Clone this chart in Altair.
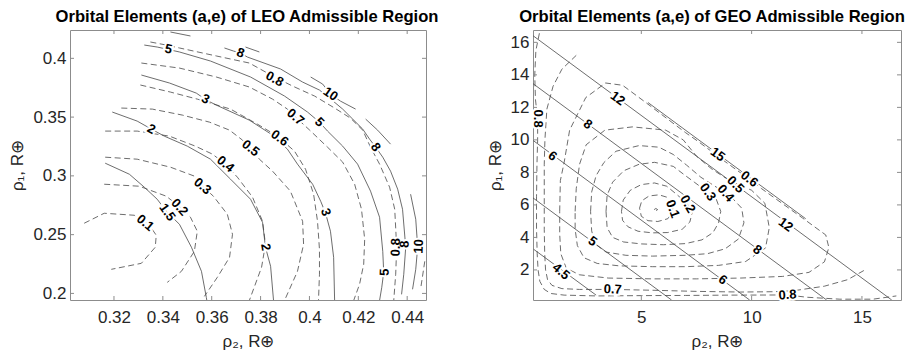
import altair as alt
import pandas as pd

FONT = "Liberation Sans"
LINE = "#474747"
FRAME = "#8c8c8c"
TXT = "#262626"

# ---------------- LEO panel ----------------
LEO_TITLE = "Orbital Elements (a,e) of LEO Admissible Region"
LEO_X_TICKS = [0.32, 0.34, 0.36, 0.38, 0.40, 0.42, 0.44]
LEO_Y_TICKS = [0.20, 0.25, 0.30, 0.35, 0.40]
LEO_X_DOMAIN = [0.3020, 0.4477]
LEO_Y_DOMAIN = [0.1944, 0.4241]

# eccentricity contours (dashed)
LEO_E01 = [(0.3078, 0.2597), (0.3160, 0.2682), (0.3283, 0.2665), (0.3345, 0.2580), (0.3373, 0.2495),
           (0.3369, 0.2393), (0.3312, 0.2256), (0.3189, 0.2205)]
LEO_E02 = [(0.3160, 0.2929), (0.3304, 0.2912), (0.3414, 0.2827), (0.3476, 0.2725), (0.3513, 0.2648),
           (0.3541, 0.2529), (0.3529, 0.2358), (0.3476, 0.2188), (0.3418, 0.2094)]
LEO_E03 = [(0.3164, 0.3159), (0.3295, 0.3142), (0.3431, 0.3074), (0.3529, 0.2998), (0.3562, 0.2912),
           (0.3607, 0.2827), (0.3664, 0.2673), (0.3685, 0.2503), (0.3673, 0.2307), (0.3623, 0.2137),
           (0.3570, 0.1975)]
LEO_E04 = [(0.3164, 0.3381), (0.3295, 0.3381), (0.3427, 0.3338), (0.3533, 0.3253), (0.3603, 0.3185),
           (0.3656, 0.3100), (0.3705, 0.2989), (0.3767, 0.2819), (0.3808, 0.2614), (0.3820, 0.2418),
           (0.3804, 0.2222), (0.3754, 0.1940)]
LEO_E05 = [(0.3230, 0.3577), (0.3357, 0.3568), (0.3480, 0.3517), (0.3591, 0.3457), (0.3673, 0.3389),
           (0.3726, 0.3304), (0.3759, 0.3236), (0.3795, 0.3142), (0.3849, 0.3040), (0.3922, 0.2870),
           (0.3972, 0.2614), (0.3976, 0.2418), (0.3951, 0.2188), (0.3898, 0.1940)]
LEO_E06 = [(0.3308, 0.3773), (0.3431, 0.3713), (0.3541, 0.3653), (0.3677, 0.3568), (0.3787, 0.3440),
           (0.3869, 0.3338), (0.3939, 0.3210), (0.3984, 0.3057), (0.4017, 0.2844), (0.4033, 0.2614),
           (0.4041, 0.2375), (0.4041, 0.2163), (0.4037, 0.1940)]
LEO_E07 = [(0.3312, 0.3960), (0.3468, 0.3917), (0.3619, 0.3841), (0.3754, 0.3756), (0.3849, 0.3653),
           (0.3910, 0.3568), (0.3943, 0.3500), (0.4001, 0.3389), (0.4074, 0.3244), (0.4136, 0.3117),
           (0.4185, 0.2929), (0.4213, 0.2716), (0.4226, 0.2461), (0.4222, 0.2248), (0.4205, 0.2077),
           (0.4181, 0.1940)]
LEO_E08 = [(0.3349, 0.4139), (0.3414, 0.4113), (0.3468, 0.4088), (0.3619, 0.4020), (0.3754, 0.3960),
           (0.3857, 0.3841), (0.3931, 0.3764), (0.4021, 0.3679), (0.4103, 0.3577), (0.4168, 0.3491),
           (0.4218, 0.3389), (0.4250, 0.3244), (0.4287, 0.3100), (0.4328, 0.2904), (0.4349, 0.2716),
           (0.4357, 0.2393), (0.4353, 0.2163), (0.4345, 0.1940)]
LEO_E09 = [(0.4472, 0.2273), (0.4456, 0.2052)]

# semi-major axis contours (solid)
LEO_A15 = [(0.3164, 0.3108), (0.3263, 0.3014), (0.3324, 0.2904), (0.3377, 0.2801), (0.3414, 0.2699),
           (0.3468, 0.2588), (0.3517, 0.2393), (0.3558, 0.2188), (0.3578, 0.1966), (0.3580, 0.1940)]
LEO_A2 = [(0.3193, 0.3543), (0.3295, 0.3466), (0.3353, 0.3398), (0.3406, 0.3338), (0.3500, 0.3253),
          (0.3595, 0.3142), (0.3677, 0.2972), (0.3759, 0.2801), (0.3808, 0.2605), (0.3820, 0.2393),
          (0.3841, 0.2231), (0.3853, 0.1940)]
LEO_A3 = [(0.3312, 0.3858), (0.3427, 0.3790), (0.3537, 0.3704), (0.3578, 0.3645), (0.3619, 0.3602),
          (0.3754, 0.3474), (0.3849, 0.3347), (0.3910, 0.3227), (0.3951, 0.3100), (0.4013, 0.2929),
          (0.4046, 0.2784), (0.4066, 0.2682), (0.4086, 0.2529), (0.4099, 0.2307), (0.4103, 0.1940)]
LEO_A5 = [(0.3324, 0.4113), (0.3377, 0.4096), (0.3468, 0.4054), (0.3595, 0.3977), (0.3759, 0.3841),
          (0.3898, 0.3679), (0.3992, 0.3543), (0.4041, 0.3457), (0.4074, 0.3381), (0.4136, 0.3253),
          (0.4197, 0.3100), (0.4250, 0.2870), (0.4287, 0.2648), (0.4300, 0.2358), (0.4304, 0.2180),
          (0.4296, 0.2052), (0.4287, 0.1940)]
LEO_A8 = [(0.3652, 0.4088), (0.3689, 0.4062), (0.3718, 0.4045), (0.3746, 0.4011), (0.3882, 0.3909),
          (0.3972, 0.3798), (0.4041, 0.3730), (0.4082, 0.3662), (0.4136, 0.3568), (0.4177, 0.3483),
          (0.4218, 0.3398), (0.4246, 0.3313), (0.4271, 0.3244), (0.4300, 0.3159), (0.4332, 0.3040),
          (0.4361, 0.2887), (0.4381, 0.2716), (0.4394, 0.2393), (0.4386, 0.2163), (0.4377, 0.1992)]
LEO_A10_S1 = [(0.3431, 0.4224), (0.3513, 0.4190)]
LEO_A10_S2 = [(0.3738, 0.4096), (0.3795, 0.4054)]
LEO_A10_S3 = [(0.4005, 0.3841), (0.4054, 0.3781), (0.4086, 0.3696), (0.4127, 0.3636), (0.4189, 0.3568)]
LEO_A10_S4 = [(0.4230, 0.3483), (0.4279, 0.3389), (0.4332, 0.3270)]
LEO_A10_S5 = [(0.4414, 0.2844), (0.4435, 0.2631), (0.4443, 0.2393), (0.4435, 0.2205), (0.4422, 0.2035)]

# inline contour labels: x, y, text, rotation
LEO_LABEL_X = [0.3423, 0.3718, 0.3857, 0.4086, 0.3943, 0.4041, 0.3878, 0.3759, 0.3656, 0.3574, 0.3353,
               0.3562, 0.3468, 0.3418, 0.3328, 0.4271, 0.3820, 0.4066, 0.4308, 0.4353, 0.4390, 0.4447]
LEO_LABEL_Y = [0.4079, 0.4045, 0.3824, 0.3696, 0.3500, 0.3457, 0.3321, 0.3236, 0.3100, 0.3653, 0.3398,
               0.2912, 0.2733, 0.2690, 0.2600, 0.3244, 0.2393, 0.2690, 0.2180, 0.2393, 0.2418, 0.2401]
LEO_LABEL_T = ["5", "8", "0.8", "10", "0.7", "5", "0.6", "0.5", "0.4", "3", "2",
               "0.3", "0.2", "1.5", "0.1", "8", "2", "3", "5", "0.8", "8", "10"]
LEO_LABEL_A = [13, 20, 28, 35, 40, 45, 36, 38, 40, 25, 28, 40, 48, 55, 40, 55, 80, 72, -88, -88, -88, -88]

# ---------------- GEO panel ----------------
GEO_TITLE = "Orbital Elements (a,e) of GEO Admissible Region"
GEO_X_TICKS = [5, 10, 15]
GEO_Y_TICKS = [2, 4, 6, 8, 10, 12, 14, 16]
GEO_X_DOMAIN = [0.09, 16.77]
GEO_Y_DOMAIN = [0.15, 16.76]

GEO_E00 = [(5.58, 5.71), (5.66, 5.78), (5.74, 5.71), (5.66, 5.64), (5.58, 5.71)]
GEO_E01 = [(4.92, 5.80), (5.02, 6.25), (5.35, 6.55), (5.80, 6.62), (6.22, 6.45), (6.42, 6.05), (6.42, 5.55),
           (6.20, 5.15), (5.75, 4.98), (5.30, 5.03), (5.00, 5.30), (4.92, 5.80)]
GEO_E02 = [(4.10, 5.60), (4.18, 6.30), (4.50, 6.90), (5.00, 7.25), (5.60, 7.35), (6.15, 7.15), (6.60, 6.65),
           (7.10, 6.05), (7.30, 5.50), (7.20, 4.95), (6.85, 4.50), (6.20, 4.30), (5.50, 4.28), (4.85, 4.38),
           (4.40, 4.65), (4.15, 5.05), (4.10, 5.60)]
GEO_E03 = [(3.40, 5.60), (3.45, 6.60), (3.70, 7.40), (4.20, 8.10), (4.90, 8.50), (5.60, 8.62), (6.45, 8.37),
           (6.95, 7.85), (7.40, 7.40), (7.85, 6.95), (8.37, 6.45), (8.60, 5.60), (8.50, 4.90), (8.25, 4.30),
           (7.75, 3.85), (7.00, 3.62), (6.00, 3.55), (5.00, 3.60), (4.20, 3.72), (3.70, 4.00), (3.45, 4.60),
           (3.40, 5.60)]
GEO_E04 = [(2.70, 5.60), (2.75, 6.80), (2.95, 7.80), (3.30, 8.60), (3.85, 9.30), (4.90, 9.65), (5.80, 9.55),
           (6.45, 9.10), (7.05, 8.45), (7.70, 7.70), (8.45, 7.05), (9.10, 6.45), (9.55, 5.80), (9.65, 4.90),
           (9.40, 3.90), (8.80, 3.30), (8.00, 3.00), (7.00, 2.90), (5.50, 2.85), (4.30, 2.90), (3.40, 3.10),
           (2.90, 3.60), (2.75, 4.40), (2.70, 5.60)]
GEO_E05 = [(2.00, 5.60), (2.05, 7.00), (2.20, 8.50), (2.50, 9.70), (3.35, 10.60), (4.60, 10.80),
           (6.10, 10.60), (6.90, 10.00), (7.50, 9.00), (8.20, 8.20), (9.00, 7.50), (10.00, 6.90),
           (10.60, 6.10), (10.80, 4.60), (10.63, 3.35), (9.73, 2.52), (8.50, 2.28), (7.00, 2.20),
           (5.50, 2.20), (4.00, 2.25), (3.00, 2.40), (2.40, 2.75), (2.10, 3.50), (2.00, 4.50), (2.00, 5.60)]
GEO_E06 = [(1.30, 5.60), (1.33, 7.50), (1.50, 8.60), (1.75, 10.60), (2.48, 12.60), (3.38, 13.50),
           (4.15, 13.36), (5.20, 12.30), (7.00, 10.45), (7.58, 9.90), (8.73, 8.73), (9.90, 7.58),
           (10.45, 7.00), (12.30, 5.20), (13.36, 4.15), (13.50, 3.38), (13.30, 2.50), (12.60, 1.85),
           (11.40, 1.60), (9.50, 1.50), (7.50, 1.45), (5.50, 1.45), (3.50, 1.50), (2.20, 1.70),
           (1.60, 2.10), (1.35, 3.00), (1.30, 4.20), (1.30, 5.60)]
GEO_E07 = [(2.05, 15.20), (1.40, 14.35), (1.00, 13.30), (0.72, 11.90), (0.63, 10.00), (0.60, 8.50),
           (0.60, 6.50), (0.60, 4.50), (0.62, 3.00), (0.66, 2.00), (0.75, 1.40), (0.95, 1.05), (1.40, 0.85),
           (2.20, 0.80), (3.70, 0.80), (5.50, 0.75), (7.50, 0.68), (9.50, 0.64), (11.00, 0.66),
           (11.90, 0.72), (13.30, 1.00), (14.35, 1.40), (15.20, 2.05)]
GEO_E08 = [(0.38, 16.56), (0.22, 15.50), (0.17, 14.00), (0.20, 12.50), (0.30, 11.30), (0.30, 10.00),
           (0.27, 8.50), (0.25, 6.50), (0.25, 4.50), (0.28, 3.00), (0.32, 2.00), (0.40, 1.30), (0.60, 0.80),
           (0.90, 0.55), (1.50, 0.45), (3.00, 0.40), (5.00, 0.42), (7.00, 0.43), (9.00, 0.45),
           (11.63, 0.46), (12.50, 0.32), (14.00, 0.20), (15.50, 0.20), (16.56, 0.40)]

GEO_A45 = [(0.12, 3.27), (2.95, 0.45)]
GEO_A5 = [(0.09, 6.43), (6.37, 0.15)]
GEO_A6 = [(0.09, 9.97), (9.91, 0.15)]
GEO_A8 = [(0.09, 13.46), (13.40, 0.15)]
GEO_A12 = [(0.10, 16.40), (16.35, 0.15)]
GEO_A15 = [(5.30, 12.30), (12.45, 5.15)]

GEO_LABEL_X = [6.42, 7.10, 8.01, 8.82, 9.27, 9.89, 3.70, 11.63, 0.30, 1.36, 2.79, 0.98, 8.69, 2.57, 10.26,
               3.93, 11.54, 8.46]
GEO_LABEL_Y = [5.75, 6.05, 6.78, 6.71, 7.25, 7.59, 0.80, 0.46, 11.31, 1.90, 3.75, 9.00, 1.39, 10.96, 3.24,
               12.54, 4.78, 9.10]
GEO_LABEL_T = ["0.1", "0.2", "0.3", "0.4", "0.5", "0.6", "0.7", "0.8", "0.8", "4.5", "5", "6", "6", "8", "8",
               "12", "12", "15"]
GEO_LABEL_A = [70, 60, 55, 50, 45, 38, 3, -3, 90, 40, 36, 36, 36, 36, 36, 36, 36, 36]


def lines_frame(segments):
    rows = []
    for name, pts in segments:
        for i, (x, y) in enumerate(pts):
            rows.append({"x": x, "y": y, "seg": name, "i": i})
    return pd.DataFrame(rows)


def panel(e_segs, a_segs, lx, ly, lt, la, xdom, ydom, xticks, yticks, xfmt, yfmt, title, W, H, title_dx):
    xs = alt.Scale(domain=xdom, nice=False, zero=False)
    ys = alt.Scale(domain=ydom, nice=False, zero=False)
    xaxis = alt.Axis(values=xticks, format=xfmt, ticks=False, domain=False, grid=False,
                     labelFontSize=17, labelFont=FONT, labelColor=TXT, labelPadding=9, labelFlush=False,
                     title="ρ₂, R⊕", titleFont=FONT, titleFontSize=17, titleFontWeight="normal",
                     titleColor=TXT, titlePadding=8)
    yaxis = alt.Axis(values=yticks, format=yfmt, ticks=False, domain=False, grid=False,
                     labelFontSize=17, labelFont=FONT, labelColor=TXT, labelPadding=4, labelFlush=False,
                     title="ρ₁, R⊕", titleFont=FONT, titleFontSize=17, titleFontWeight="normal",
                     titleColor=TXT, titlePadding=6)
    X = alt.X("x:Q", scale=xs, axis=xaxis)
    Y = alt.Y("y:Q", scale=ys, axis=yaxis)

    dashed = alt.Chart(lines_frame(e_segs)).mark_line(
        clip=True, color=LINE, strokeWidth=0.8, strokeDash=[6, 3.5]
    ).encode(x=X, y=Y, detail="seg:N", order="i:Q")
    solid = alt.Chart(lines_frame(a_segs)).mark_line(
        clip=True, color=LINE, strokeWidth=0.8
    ).encode(x=X, y=Y, detail="seg:N", order="i:Q")

    lab_df = pd.DataFrame({"x": lx, "y": ly, "t": lt, "a": la})
    base = alt.Chart(lab_df).encode(x=X, y=Y, text="t:N", angle=alt.Angle("a:Q", scale=None))
    halo = base.mark_text(font=FONT, fontSize=13, fontWeight="bold", fill="white", stroke="white",
                          strokeWidth=4, align="center", baseline="middle")
    labs = base.mark_text(font=FONT, fontSize=13, fontWeight="bold", color="black",
                          align="center", baseline="middle")

    TL = 4
    xt = pd.DataFrame({"x": xticks})
    yt = pd.DataFrame({"y": yticks})
    tb = alt.Chart(xt).mark_rule(color=FRAME).encode(x=X, y=alt.value(H), y2=alt.value(H - TL))
    tt = alt.Chart(xt).mark_rule(color=FRAME).encode(x=X, y=alt.value(0), y2=alt.value(TL))
    tl = alt.Chart(yt).mark_rule(color=FRAME).encode(y=Y, x=alt.value(0), x2=alt.value(TL))
    tr = alt.Chart(yt).mark_rule(color=FRAME).encode(y=Y, x=alt.value(W), x2=alt.value(W - TL))

    return alt.layer(dashed, solid, tb, tt, tl, tr, halo, labs).properties(
        width=W, height=H,
        title=alt.TitleParams(title, font=FONT, fontSize=16.6, fontWeight="bold", color="black",
                              anchor="middle", frame="group", offset=4, dx=title_dx),
    )


leo = panel(
    [("e01", LEO_E01), ("e02", LEO_E02), ("e03", LEO_E03), ("e04", LEO_E04), ("e05", LEO_E05),
     ("e06", LEO_E06), ("e07", LEO_E07), ("e08", LEO_E08), ("e09", LEO_E09)],
    [("a15", LEO_A15), ("a2", LEO_A2), ("a3", LEO_A3), ("a5", LEO_A5), ("a8", LEO_A8),
     ("a10a", LEO_A10_S1), ("a10b", LEO_A10_S2), ("a10c", LEO_A10_S3), ("a10d", LEO_A10_S4),
     ("a10e", LEO_A10_S5)],
    LEO_LABEL_X, LEO_LABEL_Y, LEO_LABEL_T, LEO_LABEL_A,
    LEO_X_DOMAIN, LEO_Y_DOMAIN, LEO_X_TICKS, LEO_Y_TICKS, ".2~f", ".2~f", LEO_TITLE, 356, 270, -1,
)
geo = panel(
    [("e00", GEO_E00), ("e01", GEO_E01), ("e02", GEO_E02), ("e03", GEO_E03), ("e04", GEO_E04),
     ("e05", GEO_E05), ("e06", GEO_E06), ("e07", GEO_E07), ("e08", GEO_E08)],
    [("a45", GEO_A45), ("a5", GEO_A5), ("a6", GEO_A6), ("a8", GEO_A8), ("a12", GEO_A12), ("a15", GEO_A15)],
    GEO_LABEL_X, GEO_LABEL_Y, GEO_LABEL_T, GEO_LABEL_A,
    GEO_X_DOMAIN, GEO_Y_DOMAIN, GEO_X_TICKS, GEO_Y_TICKS, "d", "d", GEO_TITLE, 368, 270, -5,
)

chart = alt.hconcat(leo, geo, spacing=107, bounds="flush").properties(
    padding={"left": 0, "top": 0, "right": 0, "bottom": 0}
).configure_view(stroke=FRAME, strokeWidth=1)

chart.save("out.html", embed_options={"renderer": "svg", "actions": False})
